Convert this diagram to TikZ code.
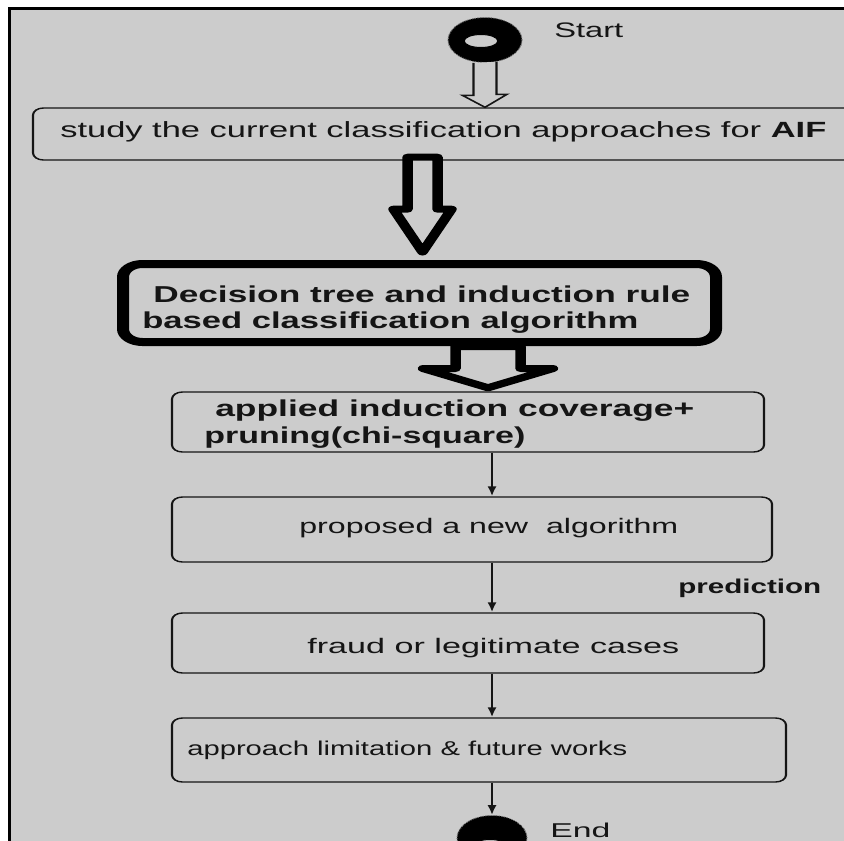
\documentclass[tikz,border=0pt]{standalone}
\usepackage{fontspec}
\setmainfont{Liberation Sans}
\usetikzlibrary{shapes.geometric,arrows.meta,calc}
\definecolor{bgc}{HTML}{CCCCCC}
\definecolor{ink}{HTML}{151515}
\newcommand{\tw}[2]{\resizebox{#1pt}{\height}{#2}}
\tikzset{
  box/.style={rectangle, draw=ink, line width=1.4pt, rounded corners=7pt, inner sep=0pt},
  thickbox/.style={rectangle, draw=black, line width=8pt, rounded corners=13pt, inner sep=0pt},
  txt/.style={inner sep=0pt, anchor=base west, text=ink, font=\fontsize{22}{26}\selectfont},
  btxt/.style={txt, font=\bfseries\fontsize{23}{27}\selectfont},
  conn/.style={draw=ink, line width=1.4pt, -{Latex[length=10pt,width=6pt]}},
  hollow/.style={draw=ink, line width=1.4pt, fill=bgc, line join=miter},
  bigarrow/.style={draw=black, line width=7pt, fill=bgc, line join=round},
  terminal/.style={ellipse, fill=black, draw=black!55, densely dotted, line width=0.8pt, inner sep=0pt},
  hole/.style={ellipse, fill=bgc, draw=black, line width=1pt, inner sep=0pt}
}
\begin{document}
\begin{tikzpicture}[x=1pt,y=-1pt]
\useasboundingbox (0,0) rectangle (844,841);
\fill[white] (0,0) rectangle (844,841);
\fill[bgc] (10,9) rectangle (844,841);
\draw[line width=3pt, black] (9.5,841) -- (9.5,8.5) -- (844,8.5);
\clip (11,10) rectangle (844,841);
\begin{scope}[x=0.666667pt, y=-1pt, transform canvas={xscale=1.5}]
  % boxes
  \node[box, minimum width=564.67pt, minimum height=52pt] (b1) at (456.5,134) {};
  \node[thickbox, minimum width=395.33pt, minimum height=78pt] (b2) at (419.5,303) {};
  \node[box, minimum width=394.67pt, minimum height=60pt] (b3) at (468,422) {};
  \node[box, minimum width=400pt, minimum height=65pt] (b4) at (472,529.5) {};
  \node[box, minimum width=394.67pt, minimum height=60pt] (b5) at (468,643) {};
  \node[box, minimum width=409.33pt, minimum height=64pt] (b6) at (479,750) {};
  % terminals
  \node[terminal, minimum width=49.33pt, minimum height=45pt] (start) at (485,40) {};
  \node[hole, minimum width=22.67pt, minimum height=13pt] (shole) at (481,41) {};
  \node[terminal, minimum width=46.67pt, minimum height=45pt] (endn) at (492,838) {};
  \node[hole, minimum width=22.67pt, minimum height=13pt] (ehole) at (490,846) {};
  % hollow thin arrow
  \draw[hollow] ($(start.south)+(-11.5,0)$) -- ++(0,32.5) -- ++(-11,0)
     -- (start.south |- b1.north) -- ++(22,-13) -- ++(-10.5,0) -- ++(0,-32.5);
  % big arrows
  \coordinate (k1) at (422.5,0);
  \draw[bigarrow] ($(k1 |- b1.south)+(-15,-3.5)$) -- ++(0,52) -- ++(-14,0)
     -- ($(k1 |- b2.north)+(0,-8)$) -- ($(k1 |- b1.south)+(29,48.5)$)
     -- ++(-14,0) -- ++(0,-52) -- cycle;
  \coordinate (k2) at (488,0);
  \draw[bigarrow] ($(k2 |- b2.south)+(-32.5,0.5)$) -- ++(0,22) -- ++(-32.5,0)
     -- ($(k2 |- b3.north)+(0,-3.5)$) -- ($(k2 |- b2.south)+(65,22.5)$)
     -- ++(-32.5,0) -- ++(0,-22) -- cycle;
  % thin connectors
  \coordinate (ax) at (492,0);
  \draw[conn] (ax |- b3.south) -- (ax |- b4.north);
  \draw[conn] (ax |- b4.south) -- (ax |- b5.north);
  \draw[conn] (ax |- b5.south) -- (ax |- b6.north);
  \draw[conn] (ax |- b6.south) -- (endn.north);
  % texts
  \node[txt, font=\fontsize{21}{25}\selectfont] (tstart) at (554,37) {\tw{46}{Start}};
  \node[txt] (t1) at (60,137) {\tw{510.7}{study the current classification approaches for \textbf{AIF}}};
  \node[btxt] (t2a) at (153,302) {\tw{358}{Decision tree and induction rule}};
  \node[btxt] (t2b) at (142,328) {\tw{330.7}{based classification algorithm}};
  \node[btxt] (t3a) at (215,416) {\tw{319.3}{applied induction coverage+}};
  \node[btxt] (t3b) at (204,443) {\tw{214}{pruning(chi-square)}};
  \node[txt, font=\fontsize{21}{25}\selectfont] (t4) at (299,533) {\tw{252.7}{proposed a new\ \ algorithm}};
  \node[btxt, font=\bfseries\fontsize{20}{24}\selectfont] (tpred) at (678,593) {\tw{95.3}{prediction}};
  \node[txt, font=\fontsize{21}{25}\selectfont] (t5) at (307,653) {\tw{248}{fraud or legitimate cases}};
  \node[txt, font=\fontsize{20}{24}\selectfont] (t6) at (187,755) {\tw{293.3}{approach limitation \& future works}};
  \node[txt, font=\fontsize{20}{24}\selectfont] (tend) at (550,837) {\tw{40}{End}};
\end{scope}
\end{tikzpicture}
\end{document}
